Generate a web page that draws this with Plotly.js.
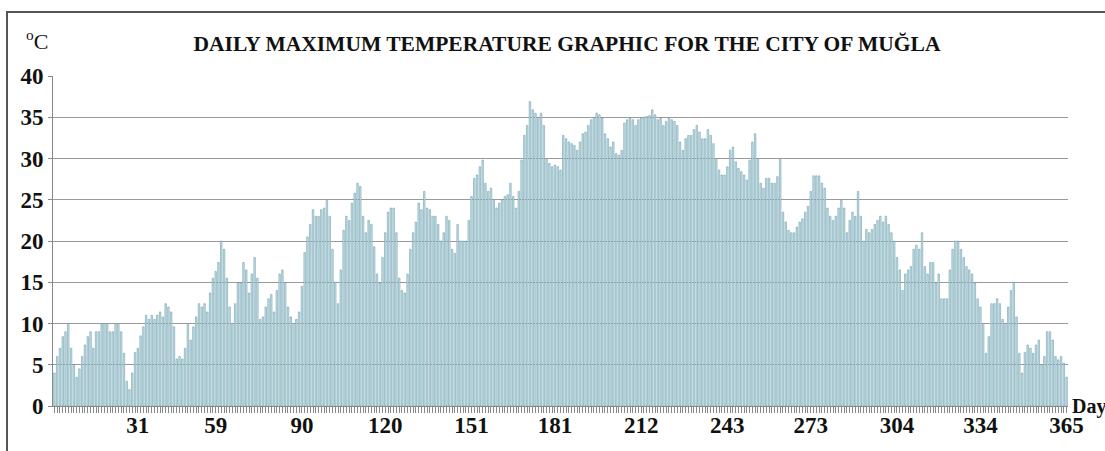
<!DOCTYPE html>
<html>
<head>
<meta charset="utf-8">
<script src="https://cdn.plot.ly/plotly-3.0.1.min.js"></script>
<style>
html,body{margin:0;padding:0;background:#fff;}
#chart{width:1105px;height:451px;}
</style>
</head>
<body>
<div id="chart"></div>
<script>
// Daily maximum temperatures (°C), day 1 .. 365
var maxTemp = [
4,6,7,8.4,9,10,7,5,3.5,4.5,
6,7.4,8.4,9,7,9,9,10,10,10,
9,9,10,10,9,6.4,3,2,4,6.5,
7,8.5,9.6,11,10.5,11,10.5,11,11.4,10.8,
12.4,12,11.4,9.6,5.7,6,5.7,7,10,8,
9.6,10.8,12.4,12,12.4,11.4,13.7,15.5,16.3,17.4,
20,19,15.5,12,10,12.4,14.9,14.9,17.4,16.5,
13.7,16,18,15.5,10.5,10.8,12,13,13.5,11.4,
14,16,16.5,15,12,10.8,10,10.5,11.4,14.5,
18.6,20.5,22,23.8,23,23,23.8,24,25,23,
19,15,12.4,16.5,21.3,23,22.5,24.6,25.8,27,
26.6,23,21,22.5,22,19.3,16,14.9,18,21,
23.5,24,24,21,15.5,14,13.7,16,19,21,
22.3,24.6,23.8,26,24,23.8,23,23,22,20,
21,23,22.5,19,18.5,22,20,20,20,22.5,
25.4,27.6,28,29,29.8,27,26,26.4,25,24,
24.6,25,25.4,25.6,27,25.4,24,26,29.8,32.8,
34,36.9,35.9,35.5,35,35.5,34,30,29.4,29,
29.2,29,28.6,32.8,32.4,32,31.8,31.6,31,32,
33,33.2,34,34.7,35,35.5,35.3,34.9,33,32.4,
31.4,32,30.6,30.4,31,34.3,34.7,34.9,34.7,34,
34.7,34.9,35,35.1,35.2,35.9,35.3,34.7,34.9,34,
34.5,34.9,34.7,34.5,34,32,31,32.4,32.8,32.8,
33.5,34,33.2,32.4,32.4,33.5,32.8,31.8,30,28.6,
28,28,29,31,31.4,29.6,28.8,28.4,28,27.4,
29.8,32,33,30,27,26.4,27.6,27.6,27,27,
27.8,30,23.5,22.3,21.3,21,21,21.7,22.3,22.7,
23.5,24.2,26,27.9,27.9,27.9,27,26.4,24,23,
22.5,23,24,25,24,21,22.5,23.5,23,26,
23,20,21.4,21,21.4,22,22.5,23,22.3,23,
22,21,20,18,16.5,14,16,16.5,16.9,19,
19.5,19,21,16.9,16,17.4,17.4,14.9,16,13,
13,13,16.5,19,20,20,19,18,16.9,16.5,
16,14.9,13,12,10,6.4,8.4,12.4,12.4,13,
12.4,10.5,10,12,14,15,10.8,6.4,4,6.5,
7.4,7,6.4,7.4,8,5,6,9,9,8,
6,5.6,6,5.2,3.5
];
var days = maxTemp.map(function(v, i){ return i + 1; });
var labeledDays = [31,59,90,120,151,181,212,243,273,304,334,365];
var yTicks = [0,5,10,15,20,25,30,35,40];

var serif = 'Liberation Serif, Times New Roman, serif';

var trace = {
  type: 'bar',
  x: days,
  y: maxTemp,
  marker: {color: '#c6e5e9', line: {color: '#5f8fa0', width: 0.5}},
  hoverinfo: 'x+y'
};

var W = 1105, H = 451, L = 53, R = 1068, T = 76, B = 406;
function px(x){ return (x - L) / (R - L); }
function py(y){ return (B - y) / (B - T); }

var layout = {
  width: W, height: H,
  margin: {l: L, r: W - R, t: T, b: H - B, pad: 0},
  paper_bgcolor: '#fff', plot_bgcolor: '#fff',
  showlegend: false,
  bargap: 0.45,
  title: {
    text: 'DAILY MAXIMUM TEMPERATURE GRAPHIC FOR THE CITY OF MUĞLA',
    font: {family: serif, size: 21.5, color: '#111', weight: 'bold'},
    xref: 'container', x: 567 / W, xanchor: 'center',
    yref: 'container', y: 1 - 43 / H, yanchor: 'middle'
  },
  xaxis: {
    range: [0.5, 365.5],
    tickmode: 'array', tickvals: labeledDays,
    ticks: 'outside', ticklen: 6, tickwidth: 1, tickcolor: '#888',
    minor: {tickmode: 'linear', tick0: 1, dtick: 1, ticks: 'outside', ticklen: 6,
            tickwidth: 1, tickcolor: '#888', showgrid: false},
    showline: true, linecolor: '#888', linewidth: 1,
    showgrid: false, zeroline: false,
    tickangle: 0,
    ticklabelstandoff: -8,
    tickfont: {family: serif, size: 23, color: '#111', weight: 'bold'}
  },
  yaxis: {
    range: [0, 40],
    tickmode: 'array', tickvals: yTicks,
    ticks: 'outside', ticklen: 4, tickwidth: 1, tickcolor: '#888',
    showline: true, linecolor: '#888', linewidth: 1,
    showgrid: true, gridcolor: '#9a9a9a', gridwidth: 1,
    zeroline: false,
    tickfont: {family: serif, size: 23, color: '#111', weight: 'bold'}
  },
  shapes: [
    {type: 'rect', xref: 'paper', yref: 'paper',
     x0: px(7), x1: px(1115), y0: py(470), y1: py(12),
     line: {color: '#555', width: 2}, fillcolor: 'rgba(0,0,0,0)', layer: 'below'}
  ],
  annotations: [
    {xref: 'paper', yref: 'paper', x: px(24), y: py(40), xanchor: 'left', yanchor: 'middle',
     text: '<sup>o</sup>C', showarrow: false,
     font: {family: serif, size: 22, color: '#111'}},
    {xref: 'paper', yref: 'paper', x: px(1070), y: py(406), xanchor: 'left', yanchor: 'middle',
     text: 'Day', showarrow: false,
     font: {family: serif, size: 20, color: '#111', weight: 'bold'}}
  ]
};

Plotly.newPlot('chart', [trace], layout, {displayModeBar: false, staticPlot: true});
</script>
</body>
</html>
